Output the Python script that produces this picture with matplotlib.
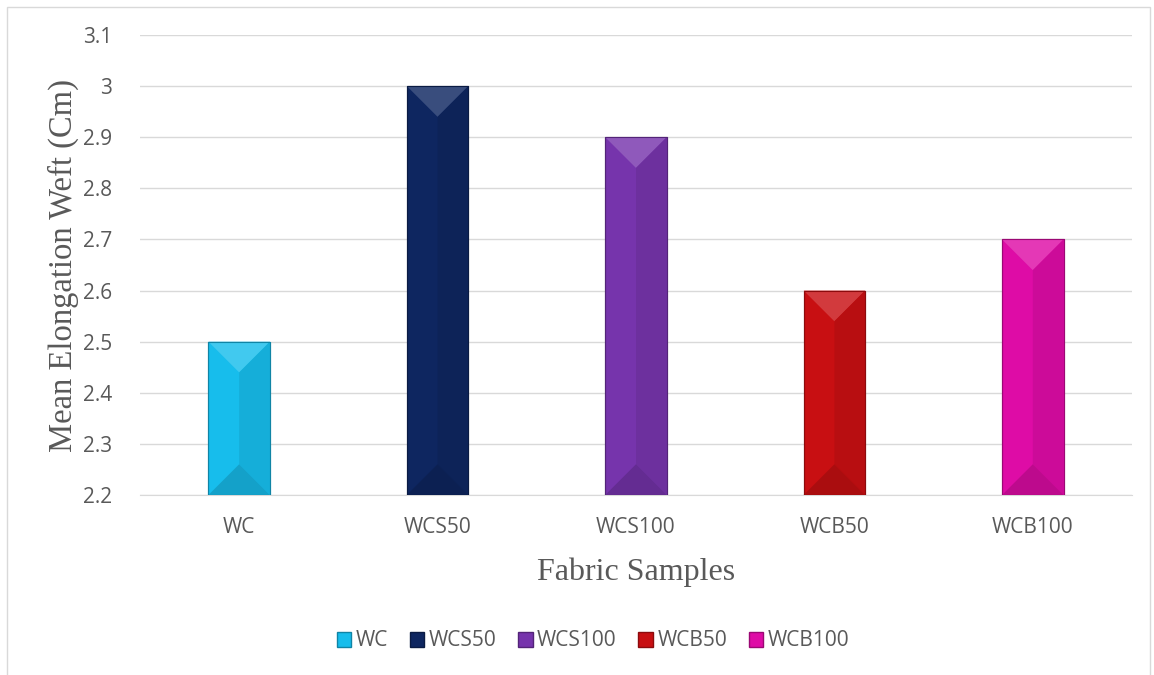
"""Mean elongation (weft) bar chart, Excel-style bevelled bars."""
import matplotlib
matplotlib.use("Agg")
import matplotlib.pyplot as plt
import matplotlib.patches as mpatches
from matplotlib.colors import to_rgb
import numpy as np

samples = ["WC", "WCS50", "WCS100", "WCB50", "WCB100"]
elongation = [2.5, 3.0, 2.9, 2.6, 2.7]
colors = ["#17BDEC", "#0E2660", "#7634AC", "#C80F12", "#DE0CA6"]
y_ticks = [2.2, 2.3, 2.4, 2.5, 2.6, 2.7, 2.8, 2.9, 3.0, 3.1]
y_labels = ["2.2", "2.3", "2.4", "2.5", "2.6", "2.7", "2.8", "2.9", "3", "3.1"]

TICK_COLOR = "#595959"
GRID_COLOR = "#D9D9D9"


def shade(color, f):
    r, g, b = to_rgb(color)
    if f >= 0:
        return (r + (1 - r) * f, g + (1 - g) * f, b + (1 - b) * f)
    return (r * (1 + f), g * (1 + f), b * (1 + f))


fig = plt.figure(figsize=(11.54, 6.75), dpi=100)
fig.patch.set_facecolor("white")

# outer chart frame
fig.add_artist(mpatches.Rectangle((7 / 1154, -0.01), 1143 / 1154, 1 - 7 / 675 + 0.01,
                                  transform=fig.transFigure, fill=False,
                                  edgecolor=GRID_COLOR, linewidth=1.0))

ax = fig.add_axes([140 / 1154, 1 - 495 / 675, 992 / 1154, 460 / 675])
x = np.arange(len(samples))
width = 0.31
bars = ax.bar(x, [v - 2.2 for v in elongation], width=width, bottom=2.2,
              color=colors, edgecolor=[shade(c, -0.25) for c in colors],
              linewidth=0.8, zorder=2, label=None)

ax.set_xlim(-0.5, len(samples) - 0.5)
ax.set_ylim(2.2, 3.1)

# bevel effect: lighter top, darker bottom and right faces
fig.canvas.draw()
px_per_unit = ax.transData.transform((0, 1))[1] - ax.transData.transform((0, 0))[1]
px_per_x = ax.transData.transform((1, 0))[0] - ax.transData.transform((0, 0))[0]
for rect, c in zip(bars, colors):
    x0, y0 = rect.get_x(), rect.get_y()
    w, h = rect.get_width(), rect.get_height()
    xm = x0 + w / 2
    bev = (w * px_per_x / 2) / px_per_unit
    top = y0 + h
    ax.add_patch(mpatches.Polygon([(x0, top), (x0 + w, top), (xm, top - bev)],
                                  closed=True, facecolor=shade(c, 0.18), edgecolor="none", zorder=3))
    ax.add_patch(mpatches.Polygon([(xm, top - bev), (x0 + w, top), (x0 + w, y0), (xm, y0 + bev)],
                                  closed=True, facecolor=shade(c, -0.08), edgecolor="none", zorder=3))
    ax.add_patch(mpatches.Polygon([(x0, y0), (x0 + w, y0), (xm, y0 + bev)],
                                  closed=True, facecolor=shade(c, -0.15), edgecolor="none", zorder=3))
    ax.add_patch(mpatches.Rectangle((x0, y0), w, h, fill=False,
                                    edgecolor=shade(c, -0.3), linewidth=0.8, zorder=4))

ax.set_yticks(y_ticks)
ax.set_yticklabels(y_labels)
ax.set_xticks(x)
ax.set_xticklabels(samples)
ax.tick_params(axis="both", length=0, labelsize=15, labelcolor=TICK_COLOR)
ax.tick_params(axis="y", pad=20)
ax.tick_params(axis="x", pad=16)
for lab in ax.get_xticklabels() + ax.get_yticklabels():
    lab.set_family(["Open Sans", "DejaVu Sans"])

ax.grid(axis="y", color=GRID_COLOR, linewidth=1.0, zorder=0)
for s in ["top", "right", "left"]:
    ax.spines[s].set_visible(False)
ax.spines["bottom"].set_color(GRID_COLOR)

ax.set_ylabel("Mean Elongation Weft (Cm)", family="Liberation Serif", fontsize=23.5,
              color="#595959", labelpad=3)
ax.set_xlabel("Fabric Samples", family="Liberation Serif", fontsize=23,
              color="#595959", labelpad=14)

handles = [mpatches.Patch(facecolor=c, edgecolor=shade(c, -0.3)) for c in colors]
leg = fig.legend(handles, samples, loc="center", bbox_to_anchor=(593 / 1154, 1 - 641 / 675),
                 ncol=5, frameon=False, handlelength=0.7, handleheight=0.7,
                 handletextpad=0.2, columnspacing=1.05,
                 prop={"family": ["Open Sans", "DejaVu Sans"], "size": 15})
for t in leg.get_texts():
    t.set_color(TICK_COLOR)

fig.savefig("out.png", dpi=100, facecolor="white")
